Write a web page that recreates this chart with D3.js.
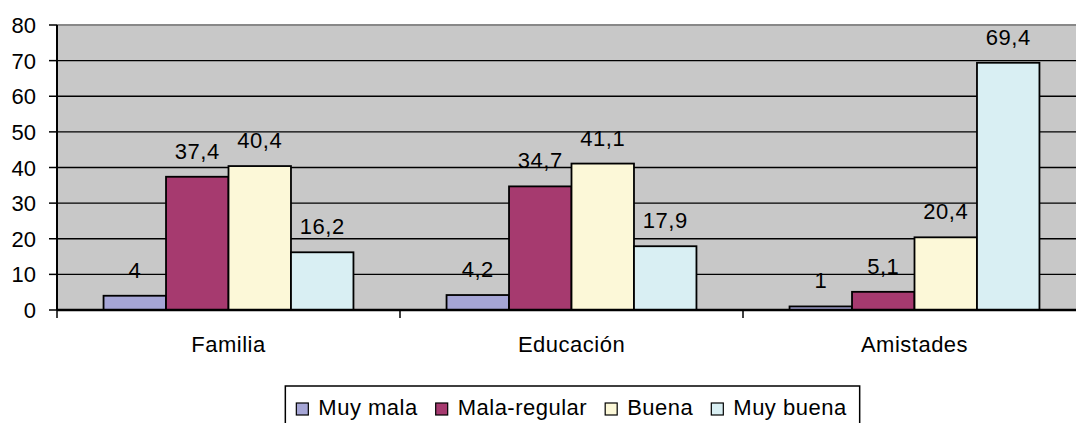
<!DOCTYPE html>
<html>
<head>
<meta charset="utf-8">
<script src="https://cdn.jsdelivr.net/npm/d3@7"></script>
<style>
body { margin:0; background:#fff; }
text { font-family: "Liberation Sans", Arial, sans-serif; font-size:22px; fill:#000; }
</style>
</head>
<body>
<svg width="1076" height="423"></svg>
<script>
var categories = ["Familia", "Educación", "Amistades"];
var series = ["Muy mala", "Mala-regular", "Buena", "Muy buena"];
var colors = ["#a6a6d6", "#a63a6f", "#fcf8d8", "#d9eff3"];
var muyMala     = [4, 4.2, 1];
var malaRegular = [37.4, 34.7, 5.1];
var buena       = [40.4, 41.1, 20.4];
var muyBuena    = [16.2, 17.9, 69.4];
var yTicks = [0, 10, 20, 30, 40, 50, 60, 70, 80];

var values = [muyMala, malaRegular, buena, muyBuena];
var data = [];
categories.forEach(function(c, i){
	series.forEach(function(s, j){
		data.push({ cat:c, ser:s, idx:j, value:values[j][i] });
	});
});

var plotLeft = 57, plotRight = 1086, plotTop = 25, plotBottom = 310;

var x0 = d3.scaleBand().domain(categories).range([plotLeft, plotRight]).padding(0);
var x1 = d3.scaleBand().domain(series).range([0, x0.bandwidth()]).paddingInner(0).paddingOuter(0.745);
var y = d3.scaleLinear().domain([0, 80]).range([plotBottom, plotTop]);

var svg = d3.select("svg");

svg.append("rect")
	.attr("x", plotLeft).attr("y", plotTop)
	.attr("width", plotRight-plotLeft).attr("height", plotBottom-plotTop)
	.attr("fill", "#c8c8c8");

// gridlines
svg.selectAll(".grid").data(yTicks.slice(1, -1))
	.enter().append("line")
	.attr("x1", plotLeft).attr("x2", plotRight)
	.attr("y1", function(d){ return y(d) }).attr("y2", function(d){ return y(d) })
	.attr("stroke", "#000").attr("stroke-width", 1.3);

svg.append("line")
	.attr("x1", plotLeft).attr("x2", plotRight)
	.attr("y1", y(80)).attr("y2", y(80))
	.attr("stroke", "#888").attr("stroke-width", 2);

// bars
svg.selectAll(".bar").data(data)
	.enter().append("rect")
	.attr("x", function(d){ return x0(d.cat) + x1(d.ser) })
	.attr("y", function(d){ return y(d.value) })
	.attr("width", x1.bandwidth())
	.attr("height", function(d){ return y(0) - y(d.value) })
	.attr("fill", function(d){ return colors[d.idx] })
	.attr("stroke", "#000").attr("stroke-width", 1.8);

svg.selectAll(".lbl").data(data)
	.enter().append("text")
	.attr("x", function(d){ return x0(d.cat) + x1(d.ser) + x1.bandwidth()/2 })
	.attr("y", function(d){ return y(d.value) - 18 })
	.attr("text-anchor", "middle")
	.attr("letter-spacing", 0.5)
	.text(function(d){ return String(d.value).replace(".", ",") });

// y axis
svg.append("line")
	.attr("x1", plotLeft).attr("x2", plotLeft).attr("y1", plotTop).attr("y2", plotBottom)
	.attr("stroke", "#000").attr("stroke-width", 2);
svg.selectAll(".ytick").data(yTicks)
	.enter().append("line")
	.attr("x1", plotLeft-8).attr("x2", plotLeft)
	.attr("y1", function(d){ return y(d) }).attr("y2", function(d){ return y(d) })
	.attr("stroke", "#000").attr("stroke-width", 1.5);
svg.selectAll(".ylbl").data(yTicks)
	.enter().append("text")
	.attr("x", 36)
	.attr("y", function(d){ return y(d) + 8 })
	.attr("text-anchor", "end")
	.text(function(d){ return d });

// x axis
svg.append("line")
	.attr("x1", plotLeft).attr("x2", plotRight).attr("y1", plotBottom).attr("y2", plotBottom)
	.attr("stroke", "#000").attr("stroke-width", 2.5);
svg.selectAll(".xtick").data(categories)
	.enter().append("line")
	.attr("x1", function(d){ return x0(d) }).attr("x2", function(d){ return x0(d) })
	.attr("y1", plotBottom).attr("y2", plotBottom+8)
	.attr("stroke", "#000").attr("stroke-width", 1.5);
svg.selectAll(".xlbl").data(categories)
	.enter().append("text")
	.attr("x", function(d){ return x0(d) + x0.bandwidth()/2 })
	.attr("y", 352)
	.attr("text-anchor", "middle")
	.attr("letter-spacing", 0.5)
	.text(function(d){ return d });

// legend
var legend = svg.append("g");
var box = legend.append("rect")
	.attr("y", 386).attr("height", 60)
	.attr("fill", "#fff").attr("stroke", "#000").attr("stroke-width", 1.5);
var lx = 0;
series.forEach(function(s, j){
	legend.append("rect")
		.attr("x", lx).attr("y", 403).attr("width", 12).attr("height", 12)
		.attr("fill", colors[j]).attr("stroke", "#000").attr("stroke-width", 1.2);
	var t = legend.append("text")
		.attr("x", lx + 22).attr("y", 415)
		.attr("letter-spacing", 0.5)
		.text(s);
	lx += 22 + t.node().getComputedTextLength() + 18;
});
var lw = lx - 18;
box.attr("x", -11).attr("width", lw + 24);
legend.attr("transform", "translate(" + ((plotLeft + plotRight)/2 - lw/2) + ",0)");
</script>
</body>
</html>
